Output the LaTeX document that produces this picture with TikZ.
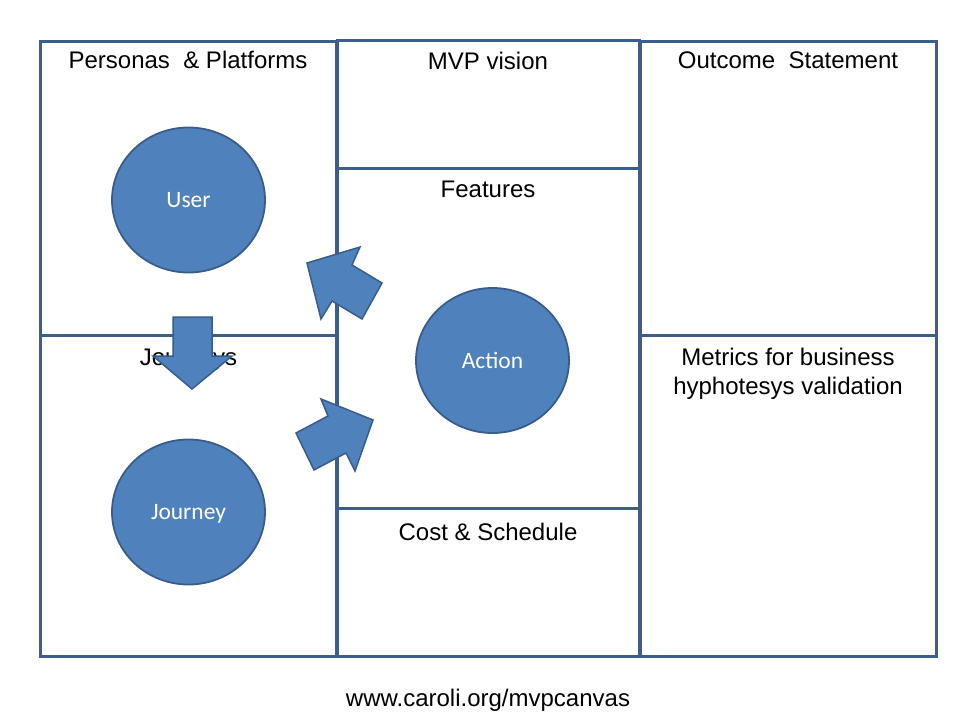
\documentclass[tikz,border=0pt]{standalone}
\usepackage{fontspec}
\setmainfont{Liberation Sans}
\newfontfamily\calib{Carlito}
\usetikzlibrary{shapes.geometric}
\definecolor{frameblue}{RGB}{60,94,138}
\definecolor{fillblue}{RGB}{79,129,189}
\definecolor{edgeblue}{RGB}{56,93,138}
\begin{document}
\begin{tikzpicture}[x=1pt,y=-1pt,
  boxline/.style={draw=frameblue,line width=3pt},
  title/.style={anchor=base,inner sep=0pt,font=\fontsize{24}{28.8}\selectfont,align=center},
  bubble/.style={ellipse,draw=edgeblue,line width=1.8pt,fill=fillblue,minimum width=153pt,minimum height=145pt,inner sep=0pt,text=white,font=\calib\fontsize{23.5}{28}\selectfont,text height=15.2pt,text depth=0pt},
  blockarrow/.style={draw=edgeblue,line width=1.5pt,fill=fillblue,line join=miter}]
\useasboundingbox[fill=white] (0,0) rectangle (960,720);
% boxes
\draw[boxline] (40,41) rectangle (336,335);
\draw[boxline] (40,335) rectangle (336,656);
\draw[boxline] (337,40) rectangle (639,168);
\draw[boxline] (337,168) rectangle (639,508);
\draw[boxline] (337,508) rectangle (639,656);
\draw[boxline] (640,41) rectangle (936,335);
\draw[boxline] (640,335) rectangle (936,656);
% titles
\node[title] (tpers) at (188,68) {Personas\ \ \& Platforms};
\node[title] (tmvp) at (488,69) {MVP vision};
\node[title] (tout) at (788,68) {Outcome\ \ Statement};
\node[title] (tfeat) at (488,197) {Features};
\node[title] (tcost) at (488,540) {Cost \& Schedule};
\node[title] (tjour) at (188.5,365) {Journeys};
\node[title,anchor=north] (tmet) at (788,348) {Metrics for business\\hyphotesys validation};
\node[title] (turl) at (488,706) {www.caroli.org/mvpcanvas};
% circles
\node[bubble] (user) at (188.5,200) {User};
\node[bubble] (journey) at (188.5,512) {Journey};
\node[bubble] (action) at (492.5,360.5) {Action};
% block arrows
\draw[blockarrow] (173,317) -- (212,317) -- (212,356) -- (232,356) -- (192,389) -- (153,356) -- (173,356) -- cycle;
\draw[blockarrow] (307,263) -- (360,247) -- (352,265) -- (382,283) -- (362,319) -- (332,301) -- (321,319) -- cycle;
\draw[blockarrow] (373,420) -- (355,471) -- (346,453) -- (314,470) -- (296,433) -- (328,416) -- (321,399) -- cycle;
\end{tikzpicture}
\end{document}
